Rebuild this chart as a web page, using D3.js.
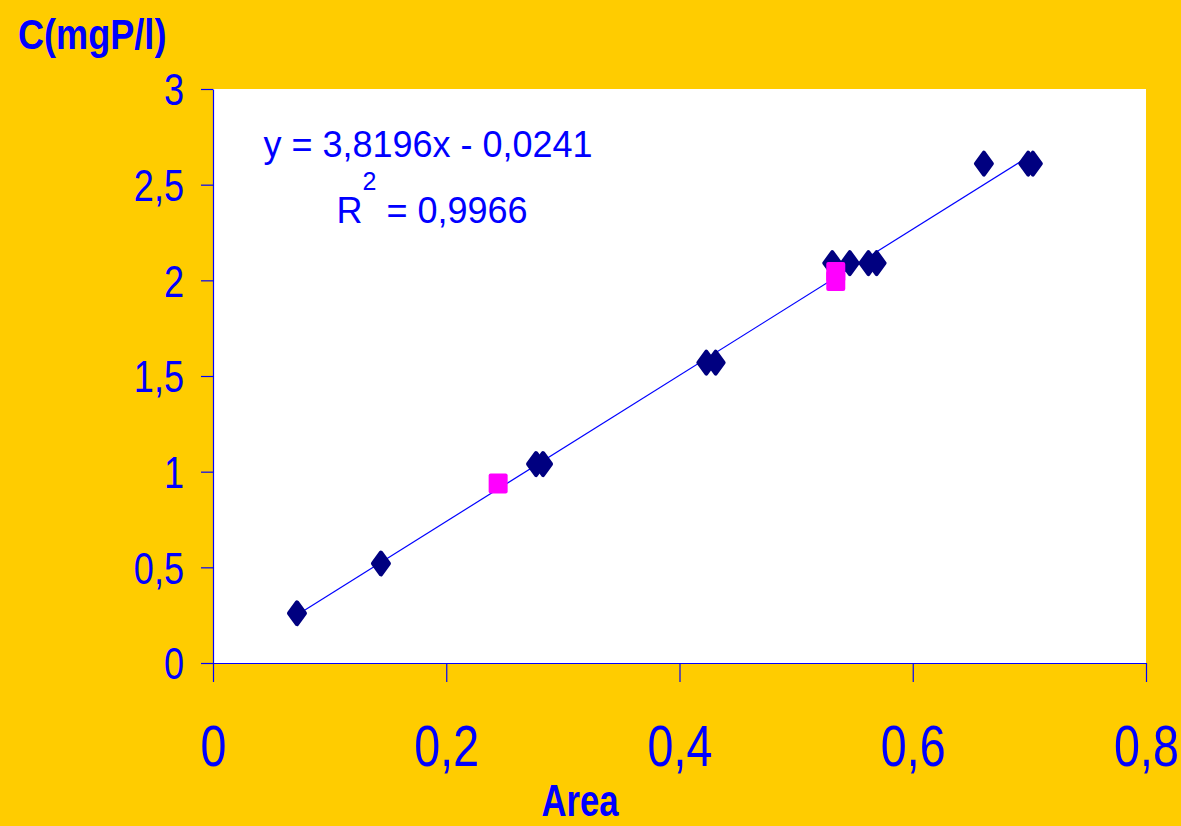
<!DOCTYPE html>
<html>
<head>
<meta charset="utf-8">
<script src="https://cdn.jsdelivr.net/npm/d3@7/dist/d3.min.js"></script>
<style>
  html, body { margin: 0; padding: 0; background: #FFCC00; }
  svg { display: block; }
  text { font-family: "Liberation Sans", Arial, sans-serif; fill: #0000FF; }
</style>
</head>
<body>
<svg id="chart" width="1181" height="826"></svg>
<script>
// Calibration standards: peak area vs. phosphorus concentration
const stdArea = [0.072, 0.144, 0.277, 0.283, 0.423, 0.431, 0.531, 0.546, 0.562, 0.569, 0.661, 0.699, 0.703];
const stdConc = [0.26, 0.52, 1.04, 1.04, 1.57, 1.57, 2.09, 2.09, 2.09, 2.09, 2.61, 2.61, 2.61];

// Samples read against the calibration line
const sampleArea = [0.2445, 0.534, 0.534];
const sampleConc = [0.938, 2.044, 1.997];

// Linear fit
const slope = 3.8196;
const intercept = -0.0241;
const rSquared = "0,9966";

// Axis ticks
const xTicks = [0, 0.2, 0.4, 0.6, 0.8];
const yTicks = [0, 0.5, 1, 1.5, 2, 2.5, 3];

const svg = d3.select("#chart");
const W = 1181, H = 826;

const plotL = 213, plotR = 1146, plotT = 89, plotB = 663;
const x = d3.scaleLinear().domain([0, 0.8]).range([plotL, plotR]);
const y = d3.scaleLinear().domain([0, 3]).range([plotB, plotT]);

const comma = v => String(v).replace(".", ",");

svg.append("rect").attr("width", W).attr("height", H).attr("fill", "#FFCC00");
svg.append("rect")
  .attr("x", plotL).attr("y", plotT)
  .attr("width", plotR - plotL).attr("height", plotB - plotT)
  .attr("fill", "#FFFFFF");

// Y axis
const yAxis = svg.append("g")
  .attr("transform", `translate(${plotL},0)`)
  .call(d3.axisLeft(y).tickValues(yTicks).tickSize(12).tickSizeOuter(0).tickFormat(comma));
yAxis.select(".domain").attr("stroke", "#0000FF").attr("stroke-width", 1.2);
yAxis.selectAll(".tick line").attr("stroke", "#0000FF").attr("stroke-width", 1.2);
yAxis.selectAll(".tick text")
  .attr("x", 0).attr("dy", "0.36em")
  .attr("text-anchor", "end")
  .attr("transform", "translate(-29,0) scale(0.82,1)")
  .style("font-size", "44px")
  .attr("fill", "#0000FF");

// X axis
const xAxis = svg.append("g")
  .attr("transform", `translate(0,${plotB})`)
  .call(d3.axisBottom(x).tickValues(xTicks).tickSize(19).tickSizeOuter(0).tickFormat(comma));
xAxis.select(".domain").attr("stroke", "#0000FF").attr("stroke-width", 1.2);
xAxis.selectAll(".tick line").attr("stroke", "#0000FF").attr("stroke-width", 1.2);
xAxis.selectAll(".tick text")
  .attr("y", 0).attr("dy", 0)
  .attr("text-anchor", "middle")
  .attr("transform", "translate(0,103) scale(0.82,1)")
  .style("font-size", "57px")
  .attr("fill", "#0000FF");

// Axis titles
svg.append("text")
  .attr("transform", "translate(18,49) scale(0.84,1)")
  .style("font-size", "43px").style("font-weight", "bold")
  .text("C(mgP/l)");
svg.append("text")
  .attr("transform", "translate(580,816) scale(0.77,1)")
  .attr("text-anchor", "middle")
  .style("font-size", "45px").style("font-weight", "bold")
  .text("Area");

// Trend line
const xMin = d3.min(stdArea), xMax = d3.max(stdArea);
const fitPts = [xMin, xMax].map(a => [a, slope * a + intercept]);
svg.append("path")
  .attr("d", d3.line().x(d => x(d[0])).y(d => y(d[1]))(fitPts))
  .attr("fill", "none").attr("stroke", "#0000FF").attr("stroke-width", 1.2);

// Standards: rounded diamonds
const dw = 8, dh = 11;
const diamond = `M0,${-dh} L${dw},0 L0,${dh} L${-dw},0 Z`;
svg.append("g").selectAll("path")
  .data(stdArea.map((a, i) => [a, stdConc[i]]))
  .join("path")
  .attr("d", diamond)
  .attr("transform", d => `translate(${x(d[0])},${y(d[1])})`)
  .attr("fill", "#000080").attr("stroke", "#000080")
  .attr("stroke-width", 4).attr("stroke-linejoin", "round");

// Samples: magenta squares
svg.append("g").selectAll("rect")
  .data(sampleArea.map((a, i) => [a, sampleConc[i]]))
  .join("rect")
  .attr("x", d => x(d[0]) - 9.5).attr("y", d => y(d[1]) - 10)
  .attr("width", 19).attr("height", 20).attr("rx", 2)
  .attr("fill", "#FF00FF");

// Regression equation
svg.append("text")
  .attr("x", 428).attr("y", 157).attr("text-anchor", "middle")
  .style("font-size", "36px")
  .text(`y = ${comma(slope)}x - ${comma(Math.abs(intercept))}`);
const r2 = svg.append("text")
  .attr("x", 432).attr("y", 223).attr("text-anchor", "middle")
  .style("font-size", "36px");
r2.append("tspan").text("R");
r2.append("tspan").attr("dy", -33).style("font-size", "25px").text("2");
r2.append("tspan").attr("dy", 33).text(` = ${rSquared}`);
</script>
</body>
</html>
